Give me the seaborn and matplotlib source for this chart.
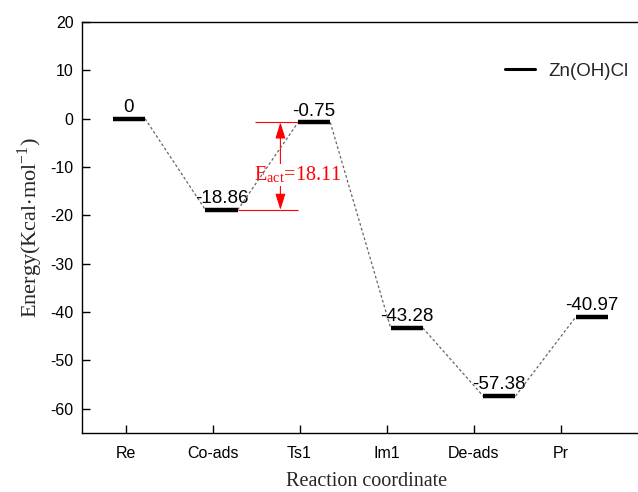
import matplotlib
matplotlib.use("Agg")
import matplotlib.pyplot as plt
import seaborn as sns
import pandas as pd
from matplotlib.lines import Line2D

# Energy profile data
steps = ["Re", "Co-ads", "Ts1", "Im1", "De-ads", "Pr"]
energies = [0, -18.86, -0.75, -43.28, -57.38, -40.97]
value_labels = ["0", "-18.86", "-0.75", "-43.28", "-57.38", "-40.97"]
series_name = "Zn(OH)Cl"
barrier = 18.11

sns.set_style("ticks")
plt.rcParams["font.family"] = ["Liberation Sans", "DejaVu Sans"]
plt.rcParams["mathtext.fontset"] = "stix"
plt.rcParams["axes.unicode_minus"] = False

fig = plt.figure(figsize=(6.38, 4.92), dpi=100)
W, H = 638, 492
ax = fig.add_axes([82 / W, (H - 433) / H, (652 - 82) / W, (433 - 22) / H])

# level centres sit slightly to the right of the category ticks
half = 0.185
centers = [i * 1.064 + 0.04 for i in range(len(steps))]
lefts = [c - half for c in centers]
rights = [c + half for c in centers]

# dashed connectors between consecutive levels
conn = []
for i in range(len(steps) - 1):
    conn.append({"seg": i, "x": rights[i], "y": energies[i]})
    conn.append({"seg": i, "x": lefts[i + 1], "y": energies[i + 1]})
conn = pd.DataFrame(conn)
sns.lineplot(data=conn, x="x", y="y", units="seg", estimator=None, ax=ax,
             color="#666666", lw=0.9, linestyle=(0, (2.2, 1.8)), legend=False,
             zorder=5)

# energy levels
ax.hlines(energies, lefts, rights, colors="black", lw=3.2, zorder=6)
for c, e, t in zip(centers, energies, value_labels):
    ax.annotate(t, (c, e), xytext=(0, 2), textcoords="offset points",
                ha="center", va="bottom", fontsize=13.5, color="black")

# activation barrier annotation
red = "#ff0000"
ts_e = energies[2]
co_e = energies[1]
ax.hlines(ts_e, 1.49, lefts[2], colors=red, lw=0.8)
ax.hlines(co_e, rights[1], 1.98, colors=red, lw=0.8)
ax.annotate("", xy=(1.78, ts_e), xytext=(1.78, co_e),
            arrowprops=dict(arrowstyle="<|-|>,head_length=0.9,head_width=0.28",
                            color=red, lw=0.8, mutation_scale=11,
                            shrinkA=0, shrinkB=0))
ax.text(1.48, -11.6, r"E$_{\mathregular{act}}$=" + f"{barrier:.2f}", color=red,
        fontsize=14.5, family="Liberation Serif", ha="left", va="center",
        bbox=dict(facecolor="white", edgecolor="none", pad=0.3), zorder=4)

ax.set_xlim(-0.5, 6.05)
ax.set_ylim(-65, 20)
ax.set_xticks(range(len(steps)))
ax.set_xticklabels(steps)
ax.set_yticks(range(-60, 21, 10))
ax.tick_params(direction="in", length=6, width=1, labelsize=11.5,
               top=False, right=False, colors="black")
ax.tick_params(axis="y", pad=6)
ax.tick_params(axis="x", pad=9)
for s in ax.spines.values():
    s.set_linewidth(1.0)
    s.set_color("black")

ax.set_xlabel("Reaction coordinate", family="Liberation Serif", fontsize=14.5, labelpad=8)
ax.set_ylabel(r"Energy(Kcal$\cdot$mol$^{\mathregular{-1}}$)", family="Liberation Serif",
              fontsize=16, labelpad=4)

handle = Line2D([], [], color="black", lw=2.2)
fig.legend([handle], [series_name], loc="upper left",
           bbox_to_anchor=(488 / W, 1 - 46 / H), frameon=False,
           fontsize=13.5, handlelength=1.6, handletextpad=0.7)

fig.savefig("out.png", dpi=100)
